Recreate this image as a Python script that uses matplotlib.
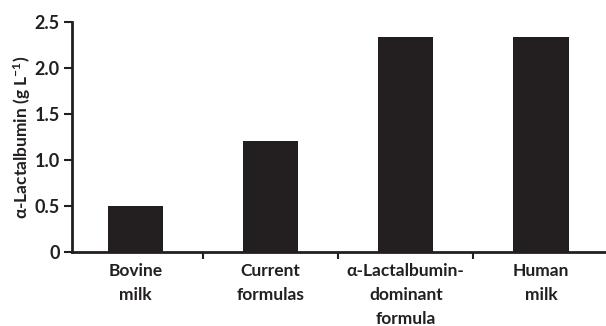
import matplotlib.pyplot as plt
import numpy as np

categories = ['Bovine\nmilk', 'Current\nformulas', 'α-Lactalbumin-\ndominant\nformula', 'Human\nmilk']
values = [0.50, 1.21, 2.33, 2.33]
yticks = [0, 0.5, 1.0, 1.5, 2.0, 2.5]
yticklabels = ['0', '0.5', '1.0', '1.5', '2.0', '2.5']

plt.rcParams['font.family'] = ['Lato', 'DejaVu Sans']
plt.rcParams['font.weight'] = 'bold'
plt.rcParams['mathtext.fontset'] = 'custom'
plt.rcParams['mathtext.rm'] = 'Lato:bold'
plt.rcParams['mathtext.it'] = 'Lato:bold'

dark = '#231f20'
fig = plt.figure(figsize=(6.06, 3.26), dpi=100)
ax = fig.add_axes([0.119, 0.227, 0.885, 0.706])

x = np.arange(len(categories))
ax.bar(x, values, width=0.41, color=dark)

ax.set_xlim(-0.47, 3.5)
ax.set_ylim(0, 2.5)
ax.set_yticks(yticks)
ax.set_yticklabels(yticklabels, fontsize=13, fontweight='bold', color=dark)

# category labels between boundary ticks
ax.set_xticks([0.5, 1.5, 2.5])
ax.set_xticklabels([])
ax.tick_params(axis='x', direction='out', length=5, width=1.5, color=dark)
ax.tick_params(axis='y', direction='out', length=6, width=1.5, color=dark, pad=3)
for i, c in enumerate(categories):
    ax.annotate(c, xy=(i, 0), xytext=(0, -8), textcoords='offset points',
                ha='center', va='top', fontsize=12.5, fontweight='bold',
                color=dark, linespacing=1.6, annotation_clip=False)

ax.set_ylabel('α-Lactalbumin (g L$^{-1}$)', fontsize=12.5, fontweight='bold', color=dark, labelpad=1)

for s in ['top', 'right']:
    ax.spines[s].set_visible(False)
for s in ['left', 'bottom']:
    ax.spines[s].set_linewidth(2)
    ax.spines[s].set_color(dark)

fig.savefig('out.png', dpi=100)
